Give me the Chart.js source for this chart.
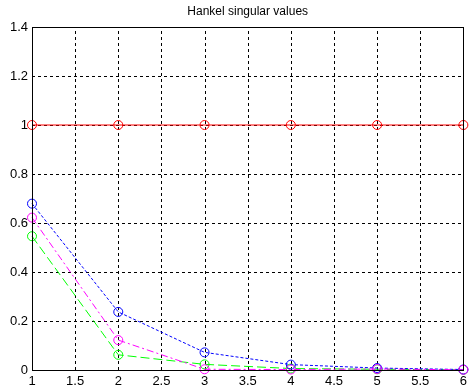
<!DOCTYPE html>
<html>
<head>
<meta charset="utf-8">
<script src="https://cdn.jsdelivr.net/npm/chart.js@4"></script>
<style>
  html, body { margin: 0; padding: 0; background: #fff; }
  #wrap { width: 471px; height: 392px; }
</style>
</head>
<body>
<div id="wrap"><canvas id="hsvChart"></canvas></div>
<script>
// --- data ---
const orders = [1, 2, 3, 4, 5, 6];
const redVals = [1, 1, 1, 1, 1, 1];
const blueVals = [0.679, 0.237, 0.072, 0.022, 0.008, 0.002];
const magentaVals = [0.622, 0.122, 0.003, 0.002, 0.004, 0.001];
const greenVals = [0.546, 0.062, 0.023, 0.006, 0.003, 0.001];

const xTicks = [1, 1.5, 2, 2.5, 3, 3.5, 4, 4.5, 5, 5.5, 6];
const xTickLabels = ['1', '1.5', '2', '2.5', '3', '3.5', '4', '4.5', '5', '5.5', '6'];
const yTicks = [0, 0.2, 0.4, 0.6, 0.8, 1, 1.2, 1.4];
const yTickLabels = ['0', '0.2', '0.4', '0.6', '0.8', '1', '1.2', '1.4'];

const titleText = 'Hankel singular values';
const FONT = 'Arial, "Liberation Sans", sans-serif';

const toPoints = (vals) => vals.map((v, i) => ({ x: orders[i], y: v }));

// lower "order" is painted on top
function series(vals, color, dash, order) {
  return {
    data: toPoints(vals),
    order: order,
    borderColor: color,
    borderWidth: 1,
    borderDash: dash,
    backgroundColor: 'transparent',
    pointStyle: 'circle',
    pointRadius: 4.5,
    pointHoverRadius: 4.5,
    pointBorderColor: color,
    pointBackgroundColor: 'transparent',
    pointBorderWidth: 1,
    tension: 0,
    clip: false
  };
}

// dashed grid (MATLAB style), drawn under the lines
const gridPlugin = {
  id: 'dashedGrid',
  beforeDatasetsDraw(chart) {
    const { ctx, chartArea: a, scales } = chart;
    ctx.save();
    ctx.strokeStyle = '#000';
    ctx.lineWidth = 1;
    ctx.setLineDash([3, 3]);
    ctx.beginPath();
    xTicks.forEach(v => {
      const px = Math.round(scales.x.getPixelForValue(v)) + 0.5;
      ctx.moveTo(px, a.bottom);
      ctx.lineTo(px, a.top);
    });
    yTicks.forEach(v => {
      const py = Math.round(scales.y.getPixelForValue(v)) + 0.5;
      ctx.moveTo(a.left, py);
      ctx.lineTo(a.right, py);
    });
    ctx.stroke();
    ctx.restore();
  }
};

// axes box + title centered over plot area
const boxPlugin = {
  id: 'boxAndTitle',
  afterDraw(chart) {
    const { ctx, chartArea: a } = chart;
    ctx.save();
    ctx.strokeStyle = '#000';
    ctx.lineWidth = 1;
    ctx.setLineDash([]);
    ctx.strokeRect(Math.round(a.left) + 0.5, Math.round(a.top) + 0.5,
      Math.round(a.right - a.left), Math.round(a.bottom - a.top));
    ctx.fillStyle = '#000';
    ctx.font = '12px ' + FONT;
    ctx.textAlign = 'center';
    ctx.textBaseline = 'middle';
    ctx.fillText(titleText, (a.left + a.right) / 2, 12);
    ctx.restore();
  }
};

new Chart(document.getElementById('hsvChart'), {
  type: 'line',
  data: {
    datasets: [
      series(redVals, '#ff0000', [], 3),
      series(blueVals, '#0000ff', [3, 2], 1),
      series(magentaVals, '#ff00ff', [7, 3, 2, 3], 0),
      series(greenVals, '#00ff00', [9, 4], 2)
    ]
  },
  options: {
    responsive: true,
    maintainAspectRatio: false,
    animation: false,
    events: [],
    layout: { padding: { top: 27, right: 3, left: 0, bottom: 0 } },
    plugins: {
      legend: { display: false },
      title: { display: false },
      tooltip: { enabled: false }
    },
    scales: {
      x: {
        type: 'linear',
        min: 1,
        max: 6,
        afterBuildTicks: (s) => { s.ticks = xTicks.map(v => ({ value: v })); },
        afterFit: (s) => { s.height = 22; },
        grid: { display: false, drawTicks: false },
        border: { display: false },
        ticks: {
          color: '#000',
          padding: 4,
          maxRotation: 0,
          autoSkip: false,
          font: { family: FONT, size: 13 },
          callback: (v, i) => xTickLabels[i]
        }
      },
      y: {
        type: 'linear',
        min: 0,
        max: 1.4,
        afterBuildTicks: (s) => { s.ticks = yTicks.map(v => ({ value: v })); },
        afterFit: (s) => { s.width = 32; },
        grid: { display: false, drawTicks: false },
        border: { display: false },
        ticks: {
          color: '#000',
          padding: 4,
          autoSkip: false,
          font: { family: FONT, size: 13 },
          callback: (v, i) => yTickLabels[i]
        }
      }
    }
  },
  plugins: [gridPlugin, boxPlugin]
});
</script>
</body>
</html>
